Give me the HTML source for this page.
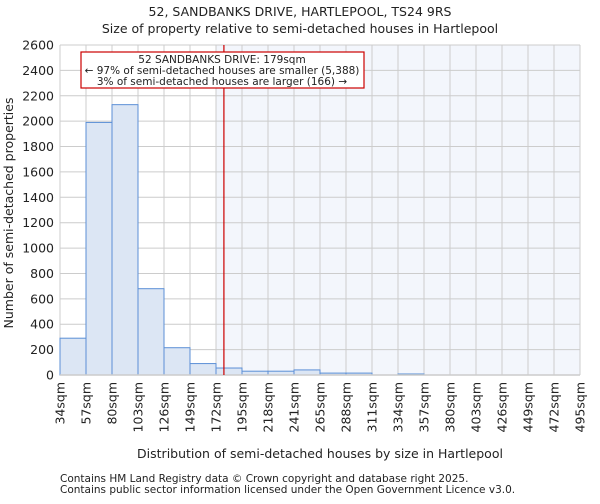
<!DOCTYPE html>
<html><head><meta charset="utf-8"><style>
body{margin:0;background:#fff;font-family:"DejaVu Sans","Liberation Sans",sans-serif;}
svg text{font-family:"DejaVu Sans","Liberation Sans",sans-serif;fill:#222;}
</style></head><body>
<svg id="chart" width="600" height="500" xmlns="http://www.w3.org/2000/svg">
<text x="300" y="16" font-size="12.5" text-anchor="middle">52, SANDBANKS DRIVE, HARTLEPOOL, TS24 9RS</text>
<text x="300" y="33" font-size="12.5" text-anchor="middle">Size of property relative to semi-detached houses in Hartlepool</text>
<g id="plot"></g>
<text x="320" y="458" font-size="12.5" text-anchor="middle">Distribution of semi-detached houses by size in Hartlepool</text>
<text transform="translate(13,213) rotate(-90)" font-size="12.5" text-anchor="middle">Number of semi-detached properties</text>
<text x="60" y="482" font-size="10.5">Contains HM Land Registry data © Crown copyright and database right 2025.</text>
<text x="60" y="493" font-size="10.5">Contains public sector information licensed under the Open Government Licence v3.0.</text>
</svg>
<script>
const edges=[34,57,80,103,126,149,172,195,218,241,265,288,311,334,357,380,403,426,449,472,495];
const counts=[290,1990,2130,680,215,90,55,30,30,40,15,15,0,8,0,0,0,0,0,0];
const yTicks=[0,200,400,600,800,1000,1200,1400,1600,1800,2000,2200,2400,2600];
const subjectSize=179;
const subjectBinStart=6;
const NS="http://www.w3.org/2000/svg";
const L=60,R=580,T=45,B=375,YMAX=2600;
const bw=(R-L)/counts.length;
function xi(i){return L+i*bw;}
function xv(v){for(let i=0;i<edges.length-1;i++){if(v>=edges[i]&&v<=edges[i+1])return xi(i)+(v-edges[i])/(edges[i+1]-edges[i])*bw;}return R;}
function y(v){return B-v/YMAX*(B-T);}
const g=document.getElementById('plot');
function mk(t,a){const e=document.createElementNS(NS,t);for(const k in a)e.setAttribute(k,a[k]);g.appendChild(e);return e;}
const bg=mk('rect',{x:xi(subjectBinStart),y:T,width:R-xi(subjectBinStart),height:B-T,fill:'#f3f6fc'});


yTicks.forEach(t=>{
 const ln=mk('line',{x1:L,x2:R,y1:y(t),y2:y(t),stroke:'#ccc','stroke-width':1});
 
 
 const tx=mk('text',{x:L-6,y:y(t)+4.5,'font-size':12.5,'text-anchor':'end'});tx.textContent=t;
 
 
});
edges.forEach((e,i)=>{
 const ln=mk('line',{x1:xi(i),x2:xi(i),y1:T,y2:B,stroke:'#ccc','stroke-width':1});
 
 
 const tx=mk('text',{transform:`translate(${xi(i)+4.5},${B+7}) rotate(-90)`,'font-size':12.5,'text-anchor':'end'});tx.textContent=e+'sqm';
 
 
});
counts.forEach((c,i)=>{
 if(c<=0)return;
 const r=mk('rect',{x:xi(i),y:y(c),width:bw,height:B-y(c),fill:'#dce6f4',stroke:'#5b8fd6','stroke-width':1});
 
 
});
const ax=mk('line',{x1:L,x2:R,y1:B,y2:B,stroke:'#ccc','stroke-width':1.5});


const sx=xv(subjectSize);
const ml=mk('line',{x1:sx,x2:sx,y1:T,y2:B,stroke:'#c00','stroke-width':1.2});


const box=mk('rect',{x:81,y:52,width:283,height:36,fill:'#fff',stroke:'#c00','stroke-width':1.2});


[['52 SANDBANKS DRIVE: 179sqm',63],['← 97% of semi-detached houses are smaller (5,388)',74],['3% of semi-detached houses are larger (166) →',85]].forEach((a,i)=>{
 const tx=mk('text',{x:222,y:a[1],'font-size':10.5,'text-anchor':'middle'});tx.textContent=a[0];
 
 
});
</script>
</body></html>
